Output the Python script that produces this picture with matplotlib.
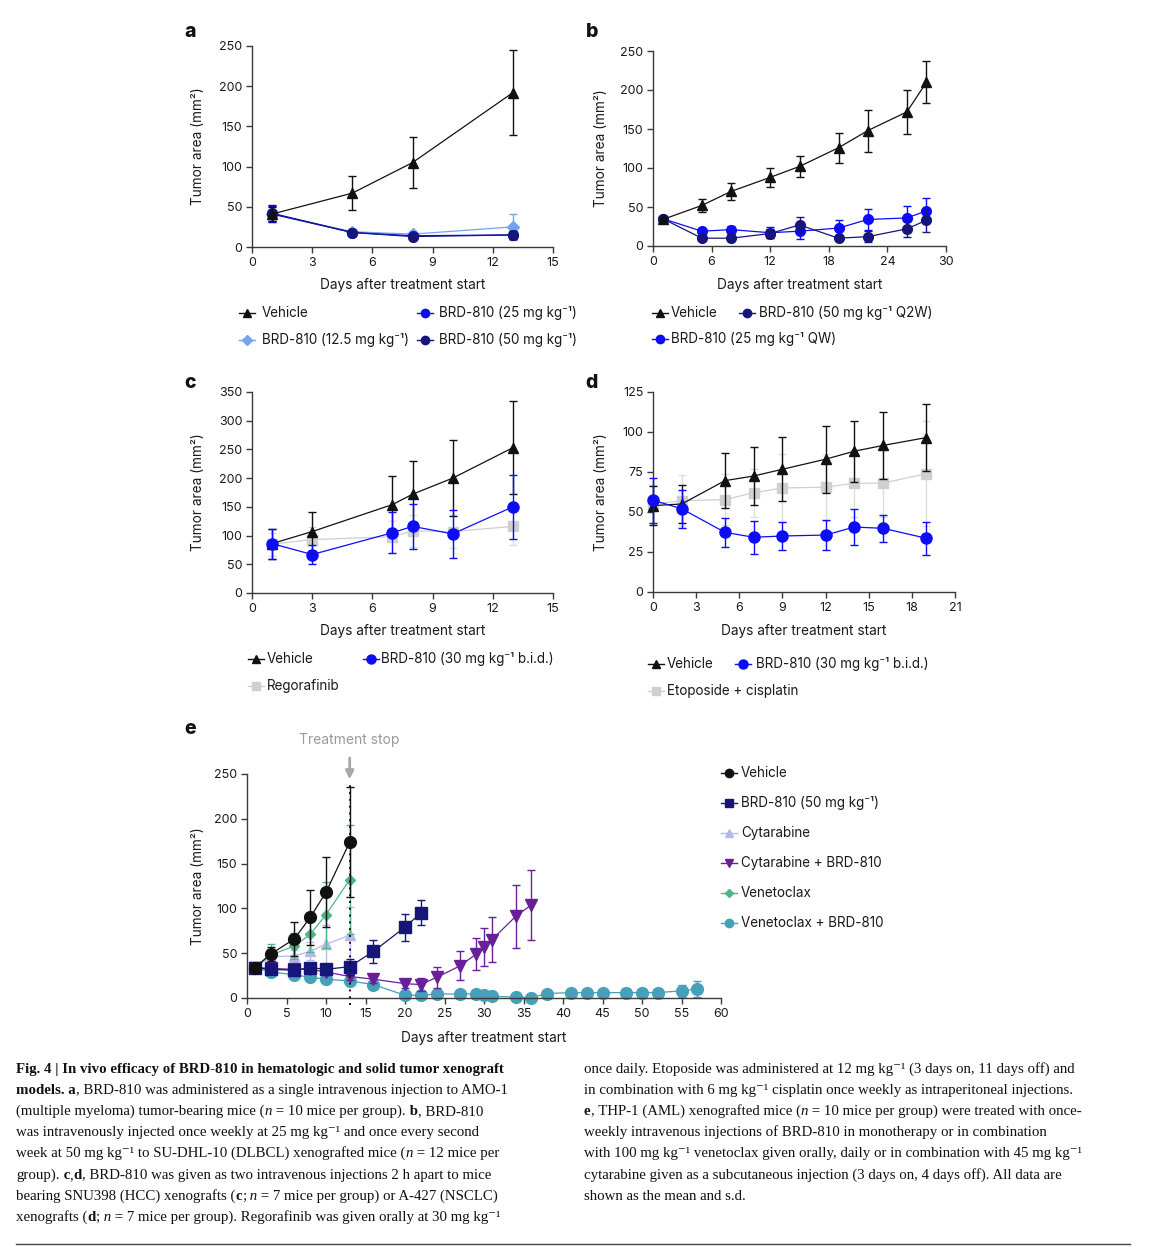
import matplotlib
matplotlib.use('Agg')
import matplotlib.pyplot as plt

# ---- panel a : AMO-1 ----
a_days = [1, 5, 8, 13]
a_vehicle = [41, 67, 105, 192]
a_vehicle_sd = [9, 21, 32, 53]
a_brd12 = [41, 19, 16, 25]
a_brd12_sd = [10, 4, 2, 16]
a_brd25 = [41, 18, 14, 15]
a_brd25_sd = [10, 3, 2, 5]
a_brd50 = [42, 18, 13, 15]
a_brd50_sd = [10, 2, 2, 5]

# ---- panel b : SU-DHL-10 ----
b_days = [1, 5, 8, 12, 15, 19, 22, 26, 28]
b_vehicle = [34, 52, 70, 88, 102, 126, 148, 172, 210]
b_vehicle_sd = [3, 8, 11, 12, 14, 19, 27, 28, 27]
b_brd50 = [35, 10, 10, 16, 27, 10, 12, 22, 33]
b_brd50_sd = [2, 2, 2, 6, 10, 2, 7, 10, 15]
b_brd25 = [35, 19, 21, 17, 19, 23, 34, 36, 45]
b_brd25_sd = [2, 4, 5, 7, 10, 10, 13, 15, 16]

# ---- panel c : SNU398 ----
c_days = [1, 3, 7, 8, 10, 13]
c_vehicle = [86, 107, 154, 172, 200, 253]
c_vehicle_sd = [26, 34, 49, 57, 66, 81]
c_brd = [86, 67, 105, 116, 103, 150]
c_brd_sd = [26, 16, 36, 39, 42, 56]
c_rego = [85, 93, 98, 108, 107, 116]
c_rego_sd = [20, 22, 28, 28, 28, 32]

# ---- panel d : A-427 ----
d_days = [0, 2, 5, 7, 9, 12, 14, 16, 19]
d_vehicle = [54, 55, 69.6, 72.5, 76.7, 83, 88, 91.6, 96.5]
d_vehicle_sd = [12, 12, 17, 18, 20, 21, 19, 21, 21]
d_brd = [57.4, 52, 37.3, 34.2, 35, 35.6, 40.6, 39.8, 33.6]
d_brd_sd = [14, 12, 9, 10.4, 9, 9.6, 11, 8.3, 10.4]
d_etop = [55, 57, 57.8, 62, 65, 65.5, 68, 68, 74]
d_etop_sd = [12, 16, 16, 15, 21, 21, 21, 21, 33]

# ---- panel e : THP-1 ----
e_vehicle_days = [1, 3, 6, 8, 10, 13]
e_vehicle = [34, 49, 66, 90, 118, 174]
e_vehicle_sd = [2, 8, 19, 31, 39, 61]
e_brd_days = [1, 3, 6, 8, 10, 13, 16, 20, 22]
e_brd = [34, 32, 31, 34, 32, 35, 52, 79, 95]
e_brd_sd = [3, 4, 5, 5, 5, 9, 13, 15, 14]
e_cyt_days = [1, 3, 6, 8, 10, 13]
e_cyt = [34, 46, 47, 52, 60, 70]
e_cyt_sd = [2, 6, 7, 10, 22, 32]
e_cytbrd_days = [1, 3, 6, 8, 10, 13, 16, 20, 22, 24, 27, 29, 30, 31, 34, 36]
e_cytbrd = [34, 33, 32, 32, 29, 24, 21, 16, 15, 23, 36, 49, 57, 65, 91, 104]
e_cytbrd_sd = [2, 3, 3, 3, 3, 4, 4, 5, 7, 12, 16, 18, 21, 25, 35, 39]
e_ven_days = [1, 3, 6, 8, 10, 13]
e_ven = [34, 48, 58, 71, 93, 132]
e_ven_sd = [2, 12, 15, 20, 37, 61]
e_venbrd_days = [1, 3, 6, 8, 10, 13, 16, 20, 22, 24, 27, 29, 30, 31, 34, 36,
                 38, 41, 43, 45, 48, 50, 52, 55, 57]
e_venbrd = [34, 29, 26, 23, 21, 19, 15, 3, 3, 4.5, 4.5, 4.5, 3, 2, 1, 0.5,
            5, 6, 6, 6, 6, 6, 6, 8, 10]
e_venbrd_sd = [2, 2, 2, 2, 2, 3, 3, 3, 2, 2, 2, 2, 2, 2, 1, 1,
               2, 2, 2, 2, 2, 4, 4, 7, 9]
treatment_stop_day = 13

W, H = 1152, 1258
SANS = ['Inter', 'DejaVu Sans']
SERIF = ['Liberation Serif', 'DejaVu Serif']
plt.rcParams['font.family'] = SANS

BLACK = '#111111'
BLUE = '#0c0cf8'
LIGHTBLUE = '#70a6ee'
NAVY = '#15157a'
GRAY = '#cfcfcf'
LAVENDER = '#b8b8f0'
PURPLE = '#6a1f9a'
GREEN = '#4fb487'
TEAL = '#45a0b8'

fig = plt.figure(figsize=(W / 100, H / 100), dpi=100)

# overlay in pixel coords for texts and legends
ov = fig.add_axes([0, 0, 1, 1])
ov.set_xlim(0, W)
ov.set_ylim(H, 0)
ov.axis('off')


def axes_px(left, top, right, bottom, xlab_y, ylab_x):
    ax = fig.add_axes([left / W, 1 - bottom / H, (right - left) / W, (bottom - top) / H])
    for s in ['top', 'right']:
        ax.spines[s].set_visible(False)
    for s in ['left', 'bottom']:
        ax.spines[s].set_color('#3a3a3a')
        ax.spines[s].set_linewidth(1.0)
    ax.tick_params(direction='out', length=4, width=1, color='#3a3a3a',
                   labelsize=9, pad=3, labelcolor='#1a1a1a')
    ax.set_xlabel('Days after treatment start', fontsize=9.8, color='#1a1a1a')
    ax.set_ylabel('Tumor area (mm²)', fontsize=9.8, color='#1a1a1a')
    ax.xaxis.set_label_coords(0.5, -(xlab_y - bottom) / (bottom - top))
    ax.xaxis.label.set_va('center')
    ax.yaxis.set_label_coords(-(left - ylab_x) / (right - left), 0.5)
    ax.yaxis.label.set_va('center')
    ax.patch.set_alpha(0)
    return ax


def series(ax, x, y, sd, color, marker, ms, z, ecolor=None, lw=0.9):
    ax.errorbar(x, y, yerr=sd, color=color, ecolor=ecolor or color, marker=marker,
                ms=ms, lw=lw, elinewidth=1, capsize=3, capthick=1, zorder=z,
                clip_on=False)


def legend_item(x, y, tx, label, color, marker, ms, size=9.7):
    ov.plot([x - 8, x + 8], [y, y], color=color, lw=1)
    ov.plot([x], [y], marker=marker, color=color, ms=ms, lw=0)
    ov.text(tx, y, label, va='center', ha='left', fontsize=size, color='#1a1a1a')


def panel_letter(x, y, s):
    ov.text(x, y, s, fontsize=14, fontweight='heavy', ha='center', va='center',
            color='#111111')


# ---- a ----
ax = axes_px(252, 46, 553, 247, 285, 198)
ax.set_xlim(0, 15)
ax.set_xticks(range(0, 16, 3))
ax.set_ylim(0, 250)
ax.set_yticks(range(0, 251, 50))
series(ax, a_days, a_vehicle, a_vehicle_sd, BLACK, '^', 7, 5)
series(ax, a_days, a_brd12, a_brd12_sd, LIGHTBLUE, 'D', 6, 3)
series(ax, a_days, a_brd25, a_brd25_sd, BLUE, 'o', 7, 4)
series(ax, a_days, a_brd50, a_brd50_sd, NAVY, 'o', 7, 4)
panel_letter(190, 32, 'a')
legend_item(247, 313, 262, 'Vehicle', BLACK, '^', 6)
legend_item(425, 313, 439, 'BRD-810 (25 mg kg⁻¹)', BLUE, 'o', 6)
legend_item(247, 340, 262, 'BRD-810 (12.5 mg kg⁻¹)', LIGHTBLUE, 'D', 5)
legend_item(425, 340, 439, 'BRD-810 (50 mg kg⁻¹)', NAVY, 'o', 6)

# ---- b ----
ax = axes_px(653, 51, 946, 246, 285, 601)
ax.set_xlim(0, 30)
ax.set_xticks(range(0, 31, 6))
ax.set_ylim(0, 250)
ax.set_yticks(range(0, 251, 50))
series(ax, b_days, b_brd25, b_brd25_sd, BLUE, 'o', 7, 3)
series(ax, b_days, b_brd50, b_brd50_sd, NAVY, 'o', 7, 4)
series(ax, b_days, b_vehicle, b_vehicle_sd, BLACK, '^', 7, 5)
panel_letter(592, 32, 'b')
legend_item(660, 313, 671, 'Vehicle', BLACK, '^', 6)
legend_item(747, 313, 759, 'BRD-810 (50 mg kg⁻¹ Q2W)', NAVY, 'o', 6)
legend_item(660, 339, 671, 'BRD-810 (25 mg kg⁻¹ QW)', BLUE, 'o', 6)

# ---- c ----
ax = axes_px(252, 392, 553, 593, 631, 198)
ax.set_xlim(0, 15)
ax.set_xticks(range(0, 16, 3))
ax.set_ylim(0, 350)
ax.set_yticks(range(0, 351, 50))
series(ax, c_days, c_rego, c_rego_sd, GRAY, 's', 7, 2, ecolor='#dddddd')
series(ax, c_days, c_vehicle, c_vehicle_sd, BLACK, '^', 7, 3)
series(ax, c_days, c_brd, c_brd_sd, BLUE, 'o', 8, 4)
panel_letter(190, 383, 'c')
legend_item(256, 659, 267, 'Vehicle', BLACK, '^', 6)
legend_item(371, 659, 381, 'BRD-810 (30 mg kg⁻¹ b.i.d.)', BLUE, 'o', 6.5)
legend_item(256, 686, 267, 'Regorafinib', GRAY, 's', 6)

# ---- d ----
ax = axes_px(653, 392, 955, 592, 631, 601)
ax.set_xlim(0, 21)
ax.set_xticks(range(0, 22, 3))
ax.set_ylim(0, 125)
ax.set_yticks(range(0, 126, 25))
series(ax, d_days, d_etop, d_etop_sd, GRAY, 's', 7, 2, ecolor='#dddddd')
series(ax, d_days, d_vehicle, d_vehicle_sd, BLACK, '^', 7, 3)
series(ax, d_days, d_brd, d_brd_sd, BLUE, 'o', 8, 4)
panel_letter(592, 383, 'd')
legend_item(656, 664, 667, 'Vehicle', BLACK, '^', 6)
legend_item(743, 664, 756, 'BRD-810 (30 mg kg⁻¹ b.i.d.)', BLUE, 'o', 6.5)
legend_item(656, 691, 667, 'Etoposide + cisplatin', GRAY, 's', 6)

# ---- e ----
ax = axes_px(247, 774, 721, 998, 1038, 198)
ax.set_xlim(0, 60)
ax.set_xticks(range(0, 61, 5))
ax.set_ylim(0, 250)
ax.set_yticks(range(0, 251, 50))
series(ax, e_venbrd_days, e_venbrd, e_venbrd_sd, TEAL, 'o', 8.5, 2)
series(ax, e_cyt_days, e_cyt, e_cyt_sd, LAVENDER, '^', 7, 3)
series(ax, e_ven_days, e_ven, e_ven_sd, GREEN, 'D', 5.5, 4)
series(ax, e_cytbrd_days, e_cytbrd, e_cytbrd_sd, PURPLE, 'v', 8, 5)
series(ax, e_brd_days, e_brd, e_brd_sd, NAVY, 's', 8, 6)
series(ax, e_vehicle_days, e_vehicle, e_vehicle_sd, BLACK, 'o', 8.5, 7)
ax.plot([treatment_stop_day, treatment_stop_day], [-8, 238], color=BLACK, lw=1.4,
        ls=(0, (1, 2.5)), clip_on=False, zorder=8)
ax.annotate('', xy=(treatment_stop_day, 241), xytext=(treatment_stop_day, 271),
            arrowprops=dict(arrowstyle='-|>', color='#a8a8a8', lw=2, mutation_scale=12),
            annotation_clip=False)
ax.text(treatment_stop_day, 288, 'Treatment stop', ha='center', va='center',
        fontsize=10, color='#9a9a9a', clip_on=False)
panel_letter(190, 729, 'e')
e_leg = [('Vehicle', BLACK, 'o', 6), ('BRD-810 (50 mg kg⁻¹)', NAVY, 's', 5.5),
         ('Cytarabine', LAVENDER, '^', 5.5), ('Cytarabine + BRD-810', PURPLE, 'v', 5.5),
         ('Venetoclax', GREEN, 'D', 4.5), ('Venetoclax + BRD-810', TEAL, 'o', 6)]
for i, (lab, col, mk, ms) in enumerate(e_leg):
    legend_item(729, 773 + 30 * i, 741, lab, col, mk, ms)

# ---- caption ----
renderer = fig.canvas.get_renderer()


def rich_line(x, y, parts, size=10.75):
    for txt, style in parts:
        kw = dict(family=SERIF, fontsize=size, va='baseline', ha='left', color='#111111')
        if 'b' in style:
            kw['fontweight'] = 'bold'
        if 'i' in style:
            kw['fontstyle'] = 'italic'
        t = ov.text(x, y, txt, **kw)
        x += t.get_window_extent(renderer).width


left_lines = [
    [('Fig. 4 | In vivo efficacy of BRD-810 in hematologic and solid tumor xenograft', 'b')],
    [('models. a', 'b'), (', BRD-810 was administered as a single intravenous injection to AMO-1', '')],
    [('(multiple myeloma) tumor-bearing mice (', ''), ('n', 'i'), (' = 10 mice per group).', ''),
     (' b', 'b'), (', BRD-810', '')],
    [('was intravenously injected once weekly at 25 mg kg⁻¹ and once every second', '')],
    [('week at 50 mg kg⁻¹ to SU-DHL-10 (DLBCL) xenografted mice (', ''), ('n', 'i'),
     (' = 12 mice per', '')],
    [('group).', ''), (' c', 'b'), (',', ''), ('d', 'b'),
     (', BRD-810 was given as two intravenous injections 2 h apart to mice', '')],
    [('bearing SNU398 (HCC) xenografts (', ''), ('c', 'b'), (';', ''), (' n', 'i'),
     (' = 7 mice per group) or A-427 (NSCLC)', '')],
    [('xenografts (', ''), ('d', 'b'), (';', ''), (' n', 'i'),
     (' = 7 mice per group). Regorafinib was given orally at 30 mg kg⁻¹', '')],
]
right_lines = [
    [('once daily. Etoposide was administered at 12 mg kg⁻¹ (3 days on, 11 days off) and', '')],
    [('in combination with 6 mg kg⁻¹ cisplatin once weekly as intraperitoneal injections.', '')],
    [('e', 'b'), (', THP-1 (AML) xenografted mice (', ''), ('n', 'i'),
     (' = 10 mice per group) were treated with once-', '')],
    [('weekly intravenous injections of BRD-810 in monotherapy or in combination', '')],
    [('with 100 mg kg⁻¹ venetoclax given orally, daily or in combination with 45 mg kg⁻¹', '')],
    [('cytarabine given as a subcutaneous injection (3 days on, 4 days off). All data are', '')],
    [('shown as the mean and s.d.', '')],
]
line_y = [1068, 1089, 1110, 1131, 1152, 1174, 1195, 1216]
for yy, parts in zip(line_y, left_lines):
    rich_line(16, yy + 5, parts)
for yy, parts in zip(line_y, right_lines):
    rich_line(584, yy + 5, parts)
ov.plot([16, 1130], [1244, 1244], color='#444444', lw=1)

fig.savefig('out.png', dpi=100)
